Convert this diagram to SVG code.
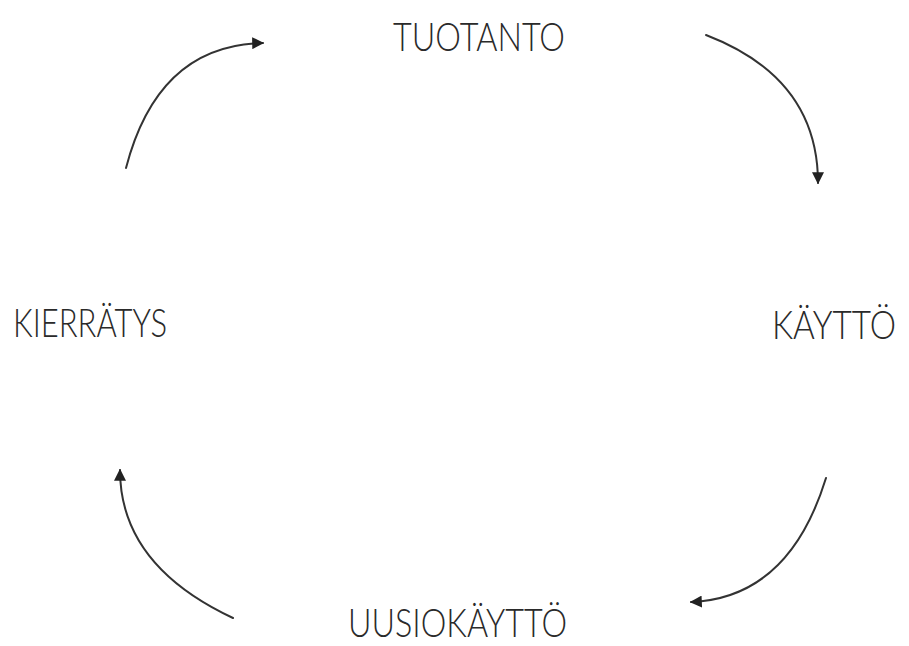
<svg xmlns="http://www.w3.org/2000/svg" width="909" height="646" viewBox="0 0 909 646">
<style>
.lbl{font-family:Lato,"Noto Sans","Liberation Sans",sans-serif;font-weight:300;font-size:39px;fill:#2a2a2a}
.arc{fill:none;stroke:#333;stroke-width:2;stroke-linecap:round}
</style>
<defs>
<marker id="ah" viewBox="0 0 10 10" refX="9" refY="5" markerWidth="12" markerHeight="12" markerUnits="userSpaceOnUse" orient="auto">
<path d="M0,0 L10,5 L0,10 z" fill="#222"/>
</marker>
</defs>
<rect width="909" height="646" fill="#fff"/>
<g id="connectors">
<path class="arc" d="M706,35 Q818,78 818,183" marker-end="url(#ah)"/>
<path class="arc" d="M126,168 Q158,45 263,43" marker-end="url(#ah)"/>
<path class="arc" d="M826,478 Q789,598 691,602" marker-end="url(#ah)"/>
<path class="arc" d="M233,618 Q120,565 120,470" marker-end="url(#ah)"/>
</g>
<g id="tuotanto"><text class="lbl" x="393" y="51" textLength="172" lengthAdjust="spacingAndGlyphs">TUOTANTO</text></g>
<g id="kaytto"><text class="lbl" x="896" y="339" text-anchor="end" font-size="37" textLength="124" lengthAdjust="spacingAndGlyphs">KÄYTTÖ</text></g>
<g id="uusiokaytto"><text class="lbl" x="348" y="637" textLength="219" lengthAdjust="spacingAndGlyphs">UUSIOKÄYTTÖ</text></g>
<g id="kierratys"><text class="lbl" x="13" y="337" textLength="154" lengthAdjust="spacingAndGlyphs">KIERRÄTYS</text></g>
</svg>
